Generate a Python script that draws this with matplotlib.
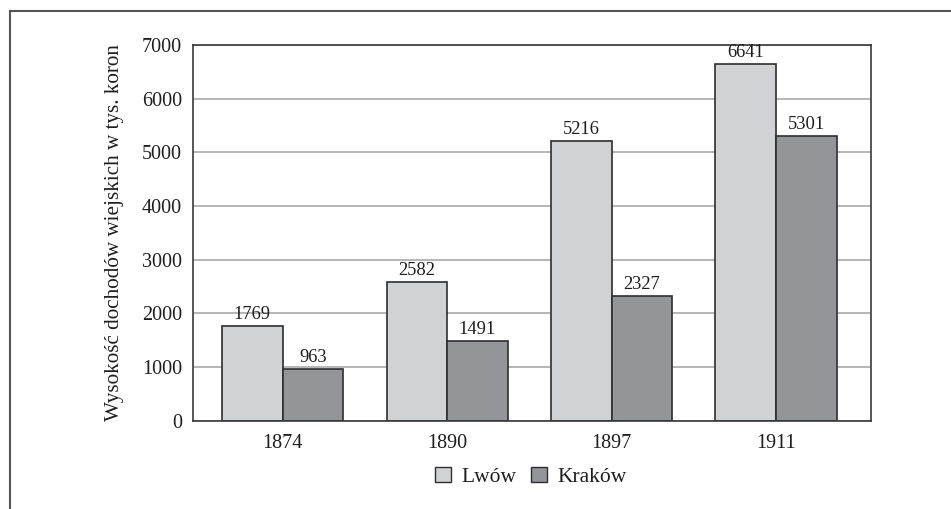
import matplotlib
matplotlib.use("Agg")
import matplotlib.pyplot as plt
import numpy as np
from matplotlib.lines import Line2D
from matplotlib.patches import Patch

years = ["1874", "1890", "1897", "1911"]
lwow = [1769, 2582, 5216, 6641]
krakow = [963, 1491, 2327, 5301]
series_names = ["Lwów", "Kraków"]
y_ticks = [0, 1000, 2000, 3000, 4000, 5000, 6000, 7000]

plt.rcParams["font.family"] = ["Liberation Serif", "DejaVu Serif"]

fig = plt.figure(figsize=(9.51, 5.09), dpi=100)
ax = fig.add_axes([193 / 951, 1 - 420.7 / 509, (870.7 - 193) / 951, (420.7 - 45) / 509])

x = np.arange(len(years))
w = 0.3686
light = "#d1d2d4"
dark = "#939598"
edge = "#2e2e2e"
text_col = "#1e1e1e"

ax.set_axisbelow(True)
ax.yaxis.grid(True, color="#b0b0b0", linewidth=1.3)

b1 = ax.bar(x - w / 2, lwow, w, color=light, edgecolor=edge, linewidth=1.2)
b2 = ax.bar(x + w / 2, krakow, w, color=dark, edgecolor=edge, linewidth=1.2)

for bars, vals in ((b1, lwow), (b2, krakow)):
    for rect, v in zip(bars, vals):
        ax.annotate(str(v), (rect.get_x() + rect.get_width() / 2, v),
                    xytext=(0, 2), textcoords="offset points",
                    ha="center", va="bottom", fontsize=13.3, color=text_col)

ax.set_xlim(-0.545, 3.575)
ax.set_ylim(0, 7000)
ax.set_yticks(y_ticks)
ax.set_xticks(x)
ax.set_xticklabels(years)
ax.tick_params(axis="both", length=0, labelsize=14.5, colors=text_col)
ax.tick_params(axis="y", pad=8)
ax.tick_params(axis="x", pad=9.5)
for s in ax.spines.values():
    s.set_color("#3a3a3a")
    s.set_linewidth(1.2)

ax.set_ylabel("Wysokość dochodów wiejskich w tys. koron", fontsize=15.2,
              color=text_col, va="baseline")
ax.yaxis.set_label_coords((119 - 193) / 677.7, 0.5)

handles = [Patch(facecolor=light, edgecolor=edge, linewidth=1.0),
           Patch(facecolor=dark, edgecolor=edge, linewidth=1.0)]
fig.legend(handles, series_names, loc="center", bbox_to_anchor=(531 / 951, 1 - 477 / 509),
           ncol=2, frameon=False, fontsize=15.5, handlelength=0.72, handleheight=0.72,
           handletextpad=0.5, columnspacing=0.7, labelcolor=text_col)

# outer frame (top and left edges)
fig.add_artist(Line2D([9.5 / 951, 1.0], [1 - 11 / 509, 1 - 11 / 509],
                      transform=fig.transFigure, color="#555555", linewidth=1.5))
fig.add_artist(Line2D([9.5 / 951, 9.5 / 951], [0.0, 1 - 11 / 509],
                      transform=fig.transFigure, color="#555555", linewidth=1.5))

fig.savefig("out.png", dpi=100, facecolor="white")
